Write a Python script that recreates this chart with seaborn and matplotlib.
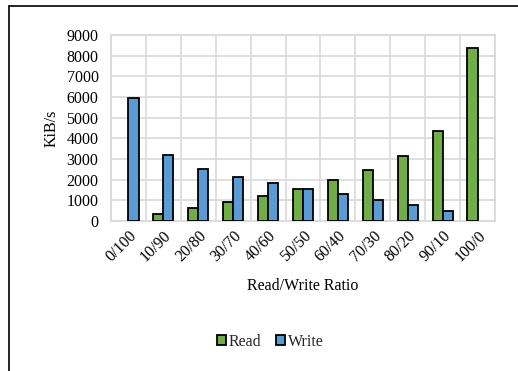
import matplotlib
matplotlib.use("Agg")
import matplotlib.pyplot as plt
from matplotlib.lines import Line2D
from matplotlib.patches import Patch
from matplotlib.ticker import FixedLocator
import numpy as np
import pandas as pd
import seaborn as sns

ratios = ["0/100", "10/90", "20/80", "30/70", "40/60", "50/50",
          "60/40", "70/30", "80/20", "90/10", "100/0"]
read_kib = [0, 350, 610, 920, 1220, 1550, 1960, 2450, 3150, 4340, 8370]
write_kib = [5950, 3180, 2520, 2130, 1820, 1550, 1290, 1030, 770, 470, 0]
series = ["Read", "Write"]
colors = ["#70AD47", "#5B9BD5"]
y_ticks = [0, 1000, 2000, 3000, 4000, 5000, 6000, 7000, 8000, 9000]

df = pd.DataFrame({
    "ratio": ratios * 2,
    "series": ["Read"] * len(ratios) + ["Write"] * len(ratios),
    "kib": read_kib + write_kib,
})

sns.set_theme(style="white")
plt.rcParams["font.family"] = ["Liberation Serif", "DejaVu Serif"]
FS = 11.5

fig = plt.figure(figsize=(5.18, 3.71), dpi=100)
ax = fig.add_axes([111 / 518, 1 - 221 / 371, 384 / 518, 186 / 371])

sns.barplot(data=df, x="ratio", y="kib", hue="series", order=ratios,
            hue_order=series, palette=colors, width=0.58, gap=0,
            edgecolor="black", linewidth=1.3, saturation=1, ax=ax,
            legend=False, zorder=3)

# empty bars get no outline
for p in ax.patches:
    if p.get_height() == 0:
        p.set_linewidth(0)

ax.set_xlim(-0.5, len(ratios) - 0.5)
ax.set_ylim(0, 9000)
ax.set_yticks(y_ticks)
ax.set_yticklabels([str(v) for v in y_ticks], fontsize=FS)
ax.xaxis.set_minor_locator(FixedLocator(np.arange(-0.5, len(ratios), 1.0)))
ax.grid(axis="y", which="major", color="#D9D9D9", linewidth=1.2, zorder=0)
ax.grid(axis="x", which="minor", color="#D9D9D9", linewidth=1.2, zorder=0)
ax.grid(axis="x", which="major", visible=False)
ax.set_axisbelow(True)
for s in ax.spines.values():
    s.set_color("#D9D9D9")
    s.set_linewidth(1.2)
ax.tick_params(axis="both", which="both", length=0)
ax.tick_params(axis="y", pad=9, colors="black")
ax.tick_params(axis="x", pad=5, colors="black")
for lbl in ax.get_xticklabels():
    lbl.set_rotation(45)
    lbl.set_ha("right")
    lbl.set_rotation_mode("anchor")
    lbl.set_fontsize(FS)

ax.set_xlabel("Read/Write Ratio", fontsize=FS, labelpad=9, color="black")
ax.set_ylabel("KiB/s", fontsize=FS, labelpad=5, color="black")

handles = [Patch(facecolor=c, edgecolor="black", linewidth=1.3) for c in colors]
fig.legend(handles, series, loc="center", bbox_to_anchor=(270 / 518, 1 - 342 / 371),
           ncol=2, frameon=False, fontsize=FS, handlelength=0.6,
           handleheight=0.6, handletextpad=0.15, columnspacing=0.9)

# outer frame: top edge and left edge
fig.add_artist(Line2D([8.5 / 518, 1.0], [1 - 6 / 371, 1 - 6 / 371],
                      transform=fig.transFigure, color="black", linewidth=1.2))
fig.add_artist(Line2D([8.5 / 518, 8.5 / 518], [0.0, 1 - 6 / 371],
                      transform=fig.transFigure, color="black", linewidth=1.2))

fig.savefig("out.png", dpi=100)
